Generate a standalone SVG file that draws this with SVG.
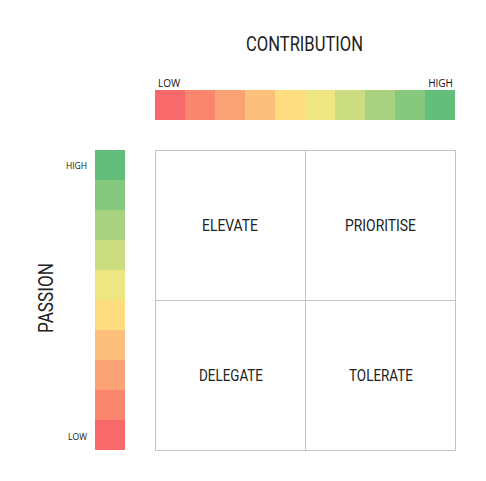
<svg xmlns="http://www.w3.org/2000/svg" width="486" height="481" viewBox="0 0 486 481">
<style>
.axis{font-family:Roboto,"Liberation Sans",sans-serif;font-size:20px;fill:#222;}
.q{font-family:Roboto,"Liberation Sans",sans-serif;font-size:17px;fill:#222;text-anchor:middle;}
.sm{font-family:"Open Sans","Liberation Sans",sans-serif;fill:#111;}
.cell{fill:#fff;stroke:#c4c4c4;stroke-width:1;}
</style>
<rect width="486" height="481" fill="#fff"/>
<g id="contribution-title"><text class="axis" x="246" y="51" textLength="117" lengthAdjust="spacingAndGlyphs">CONTRIBUTION</text></g>
<g id="passion-title"><text class="axis" transform="translate(53,333) rotate(-90)" x="0" y="0" textLength="70" lengthAdjust="spacingAndGlyphs">PASSION</text></g>
<g id="contribution-scale">
<rect x="155" y="90" width="30" height="30" fill="#F8696B"/>
<rect x="185" y="90" width="30" height="30" fill="#FA8670"/>
<rect x="215" y="90" width="30" height="30" fill="#FBA376"/>
<rect x="245" y="90" width="30" height="30" fill="#FDC07C"/>
<rect x="275" y="90" width="30" height="30" fill="#FEDD81"/>
<rect x="305" y="90" width="30" height="30" fill="#EEE683"/>
<rect x="335" y="90" width="30" height="30" fill="#CBDC81"/>
<rect x="365" y="90" width="30" height="30" fill="#A8D27F"/>
<rect x="395" y="90" width="30" height="30" fill="#86C87D"/>
<rect x="425" y="90" width="30" height="30" fill="#63BE7B"/>
<text class="sm" x="158" y="87" font-size="10">LOW</text>
<text class="sm" x="453" y="87" font-size="10" text-anchor="end">HIGH</text>
</g>
<g id="passion-scale">
<rect x="95" y="420" width="30" height="30" fill="#F8696B"/>
<rect x="95" y="390" width="30" height="30" fill="#FA8670"/>
<rect x="95" y="360" width="30" height="30" fill="#FBA376"/>
<rect x="95" y="330" width="30" height="30" fill="#FDC07C"/>
<rect x="95" y="300" width="30" height="30" fill="#FEDD81"/>
<rect x="95" y="270" width="30" height="30" fill="#EEE683"/>
<rect x="95" y="240" width="30" height="30" fill="#CBDC81"/>
<rect x="95" y="210" width="30" height="30" fill="#A8D27F"/>
<rect x="95" y="180" width="30" height="30" fill="#86C87D"/>
<rect x="95" y="150" width="30" height="30" fill="#63BE7B"/>
<text class="sm" x="87" y="168.5" font-size="8.5" text-anchor="end">HIGH</text>
<text class="sm" x="87" y="439.5" font-size="8.5" text-anchor="end">LOW</text>
</g>
<g id="elevate"><rect class="cell" x="155.5" y="150.5" width="150" height="150"/><text class="q" x="230" y="231" textLength="56" lengthAdjust="spacingAndGlyphs">ELEVATE</text></g>
<g id="prioritise"><rect class="cell" x="305.5" y="150.5" width="150" height="150"/><text class="q" x="380.5" y="231" textLength="71" lengthAdjust="spacingAndGlyphs">PRIORITISE</text></g>
<g id="delegate"><rect class="cell" x="155.5" y="300.5" width="150" height="150"/><text class="q" x="231" y="381" textLength="64" lengthAdjust="spacingAndGlyphs">DELEGATE</text></g>
<g id="tolerate"><rect class="cell" x="305.5" y="300.5" width="150" height="150"/><text class="q" x="381" y="381" textLength="64" lengthAdjust="spacingAndGlyphs">TOLERATE</text></g>
</svg>
